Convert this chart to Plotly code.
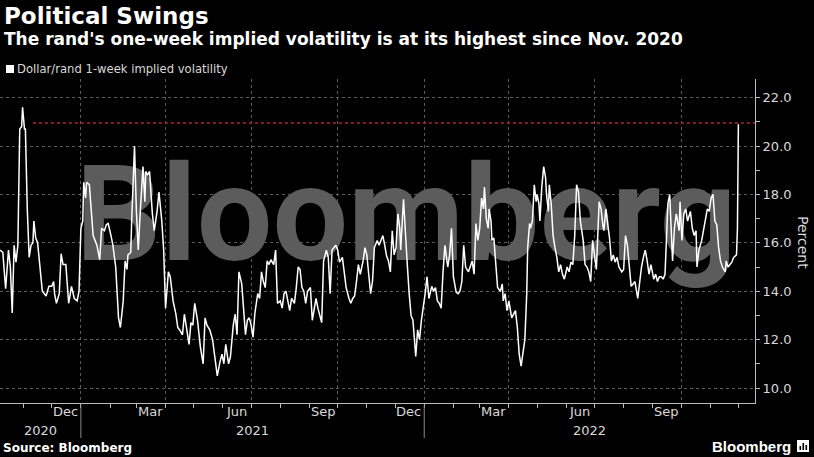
import plotly.graph_objects as go
import pandas as pd

# ---------------- data ----------------
dates = [
    "2020-10-07", "2020-10-10", "2020-10-13", "2020-10-16", "2020-10-18", "2020-10-20", "2020-10-22", "2020-10-24",
    "2020-10-26", "2020-10-28", "2020-10-30", "2020-10-31", "2020-11-02", "2020-11-03", "2020-11-05", "2020-11-07",
    "2020-11-09", "2020-11-11", "2020-11-12", "2020-11-14", "2020-11-16", "2020-11-19", "2020-11-21", "2020-11-25",
    "2020-11-28", "2020-12-01", "2020-12-03", "2020-12-04", "2020-12-06", "2020-12-09", "2020-12-11", "2020-12-13",
    "2020-12-16", "2020-12-19", "2020-12-22", "2020-12-25", "2020-12-28", "2020-12-30", "2021-01-01", "2021-01-03",
    "2021-01-04", "2021-01-06", "2021-01-07", "2021-01-10", "2021-01-12", "2021-01-14", "2021-01-18", "2021-01-21",
    "2021-01-23", "2021-01-26", "2021-01-28", "2021-01-30", "2021-02-02", "2021-02-04", "2021-02-07", "2021-02-10",
    "2021-02-12", "2021-02-15", "2021-02-17", "2021-02-19", "2021-02-20", "2021-02-23", "2021-02-24", "2021-02-27",
    "2021-03-01", "2021-03-03", "2021-03-05", "2021-03-08", "2021-03-10", "2021-03-11", "2021-03-13", "2021-03-15",
    "2021-03-18", "2021-03-20", "2021-03-23", "2021-03-25", "2021-03-28", "2021-03-30", "2021-04-01", "2021-04-04",
    "2021-04-06", "2021-04-09", "2021-04-12", "2021-04-14", "2021-04-16", "2021-04-19", "2021-04-21", "2021-04-23",
    "2021-04-26", "2021-04-28", "2021-04-30", "2021-05-02", "2021-05-05", "2021-05-08", "2021-05-11", "2021-05-13",
    "2021-05-15", "2021-05-18", "2021-05-21", "2021-05-24", "2021-05-26", "2021-05-29", "2021-05-31", "2021-06-02",
    "2021-06-04", "2021-06-07", "2021-06-09", "2021-06-12", "2021-06-14", "2021-06-16", "2021-06-18", "2021-06-21",
    "2021-06-23", "2021-06-25", "2021-06-27", "2021-06-29", "2021-07-01", "2021-07-03", "2021-07-05", "2021-07-08",
    "2021-07-10", "2021-07-12", "2021-07-14", "2021-07-16", "2021-07-18", "2021-07-20", "2021-07-22", "2021-07-25",
    "2021-07-27", "2021-07-29", "2021-08-01", "2021-08-03", "2021-08-05", "2021-08-07", "2021-08-09", "2021-08-11",
    "2021-08-13", "2021-08-16", "2021-08-18", "2021-08-20", "2021-08-22", "2021-08-24", "2021-08-26", "2021-08-28",
    "2021-08-30", "2021-09-02", "2021-09-04", "2021-09-06", "2021-09-08", "2021-09-10", "2021-09-12", "2021-09-14",
    "2021-09-16", "2021-09-19", "2021-09-21", "2021-09-23", "2021-09-25", "2021-09-27", "2021-09-29", "2021-10-01",
    "2021-10-03", "2021-10-06", "2021-10-08", "2021-10-10", "2021-10-13", "2021-10-15", "2021-10-17", "2021-10-19",
    "2021-10-21", "2021-10-23", "2021-10-25", "2021-10-28", "2021-10-30", "2021-11-01", "2021-11-03", "2021-11-05",
    "2021-11-07", "2021-11-09", "2021-11-12", "2021-11-14", "2021-11-16", "2021-11-18", "2021-11-20", "2021-11-22",
    "2021-11-24", "2021-11-26", "2021-11-28", "2021-11-30", "2021-12-02", "2021-12-04", "2021-12-06", "2021-12-07",
    "2021-12-10", "2021-12-12", "2021-12-14", "2021-12-16", "2021-12-18", "2021-12-20", "2021-12-23", "2021-12-25",
    "2021-12-27", "2021-12-29", "2021-12-31", "2022-01-02", "2022-01-04", "2022-01-06", "2022-01-09", "2022-01-11",
    "2022-01-13", "2022-01-15", "2022-01-17", "2022-01-19", "2022-01-21", "2022-01-23", "2022-01-26", "2022-01-28",
    "2022-01-30", "2022-02-01", "2022-02-04", "2022-02-06", "2022-02-08", "2022-02-10", "2022-02-12", "2022-02-14",
    "2022-02-17", "2022-02-19", "2022-02-21", "2022-02-23", "2022-02-25", "2022-02-27", "2022-03-01", "2022-03-03",
    "2022-03-05", "2022-03-06", "2022-03-08", "2022-03-10", "2022-03-11", "2022-03-13", "2022-03-14", "2022-03-16",
    "2022-03-18", "2022-03-20", "2022-03-23", "2022-03-25", "2022-03-26", "2022-03-28", "2022-03-30", "2022-04-01",
    "2022-04-04", "2022-04-06", "2022-04-08", "2022-04-10", "2022-04-12", "2022-04-14", "2022-04-16", "2022-04-18",
    "2022-04-20", "2022-04-21", "2022-04-23", "2022-04-24", "2022-04-26", "2022-04-28", "2022-04-30", "2022-05-01",
    "2022-05-03", "2022-05-04", "2022-05-06", "2022-05-07", "2022-05-08", "2022-05-10", "2022-05-11", "2022-05-13",
    "2022-05-14", "2022-05-16", "2022-05-18", "2022-05-20", "2022-05-22", "2022-05-24", "2022-05-26", "2022-05-28",
    "2022-05-30", "2022-06-02", "2022-06-04", "2022-06-06", "2022-06-08", "2022-06-10", "2022-06-12", "2022-06-14",
    "2022-06-16", "2022-06-19", "2022-06-21", "2022-06-23", "2022-06-25", "2022-06-27", "2022-06-29", "2022-07-01",
    "2022-07-03", "2022-07-06", "2022-07-08", "2022-07-10", "2022-07-11", "2022-07-13", "2022-07-15", "2022-07-17",
    "2022-07-19", "2022-07-21", "2022-07-23", "2022-07-25", "2022-07-27", "2022-07-30", "2022-08-01", "2022-08-03",
    "2022-08-05", "2022-08-07", "2022-08-09", "2022-08-11", "2022-08-13", "2022-08-16", "2022-08-18", "2022-08-20",
    "2022-08-22", "2022-08-24", "2022-08-26", "2022-08-28", "2022-08-30", "2022-09-02", "2022-09-04", "2022-09-06",
    "2022-09-08", "2022-09-10", "2022-09-12", "2022-09-14", "2022-09-16", "2022-09-17", "2022-09-19", "2022-09-20",
    "2022-09-22", "2022-09-24", "2022-09-26", "2022-09-29", "2022-09-30", "2022-10-02", "2022-10-04", "2022-10-06",
    "2022-10-08", "2022-10-11", "2022-10-13", "2022-10-15", "2022-10-17", "2022-10-18", "2022-10-20", "2022-10-23",
    "2022-10-25", "2022-10-27", "2022-10-29", "2022-10-31", "2022-11-02", "2022-11-04", "2022-11-06", "2022-11-08",
    "2022-11-10", "2022-11-12", "2022-11-14", "2022-11-17", "2022-11-18", "2022-11-20", "2022-11-22", "2022-11-24",
    "2022-11-26", "2022-11-29", "2022-11-30", "2022-12-01",
]
vol = [
    15.7, 15.6, 14.1, 15.7, 15.0, 13.1, 15.9, 15.2,
    15.9, 20.7, 20.8, 21.6, 20.7, 20.7, 17.4, 15.4,
    15.9, 16.0, 16.9, 16.2, 16.0, 14.7, 14.0, 13.8,
    14.2, 14.2, 14.4, 13.9, 13.5, 13.9, 15.55, 15.1,
    15.1, 13.5, 14.2, 13.7, 13.6, 14.0, 16.6, 16.9,
    18.5, 17.85, 18.5, 18.4, 17.4, 16.3, 15.9, 15.3,
    16.6, 16.5, 16.75, 16.8, 16.3, 15.9, 15.0, 12.9,
    12.5, 13.6, 15.25, 14.9, 15.5, 15.6, 16.9, 20.0,
    17.3, 15.7, 17.2, 19.15, 17.7, 18.95, 18.8, 18.95,
    17.2, 16.5, 17.3, 18.1, 16.9, 15.7, 13.3, 14.8,
    14.6, 13.6, 13.05, 12.5, 12.4, 12.2, 13.05, 12.5,
    11.8, 12.7, 12.6, 13.5, 12.8, 11.7, 11.0, 12.9,
    12.6, 12.4, 12.0, 11.1, 10.5, 11.1, 11.4, 11.0,
    11.8, 11.0, 11.3, 12.6, 13.05, 12.2, 14.8, 14.3,
    13.2, 12.2, 12.8, 12.9, 12.6, 12.1, 13.1, 13.9,
    13.7, 14.8, 14.4, 14.15, 15.25, 15.1, 15.3, 15.1,
    15.7, 13.5, 13.6, 13.3, 13.9, 14.0, 13.6, 13.2,
    13.7, 13.5, 14.15, 15.0, 14.9, 14.15, 14.0, 13.5,
    14.0, 14.15, 12.8, 13.3, 13.7, 13.3, 13.05, 12.7,
    15.25, 15.7, 15.4, 13.9, 15.7, 15.8, 15.9, 15.7,
    15.2, 15.4, 14.7, 14.15, 13.7, 13.5, 13.7, 13.8,
    14.4, 15.1, 14.7, 15.25, 15.8, 15.5, 14.7, 13.9,
    14.4, 15.8, 16.1, 15.9, 16.1, 16.3, 15.9, 15.45,
    15.25, 14.8, 16.5, 15.5, 15.8, 17.2, 16.6, 15.7,
    17.8, 16.2, 15.1, 13.9, 13.0, 12.8, 11.3, 12.4,
    12.0, 12.8, 13.3, 13.9, 14.6, 13.7, 14.2, 14.0,
    14.15, 13.6, 13.5, 13.3, 14.8, 15.9, 15.0, 15.5,
    16.6, 14.6, 13.95, 13.9, 14.0, 14.4, 15.9, 15.0,
    14.8, 15.0, 15.25, 14.7, 16.8, 16.1, 16.6, 17.85,
    17.4, 18.3, 17.0, 16.6, 17.4, 16.9, 16.1, 16.2,
    15.25, 14.15, 14.0, 14.3, 13.6, 13.9, 13.2, 13.6,
    12.9, 13.05, 13.2, 12.5, 11.4, 10.9, 11.55, 12.0,
    13.9, 15.8, 16.8, 16.6, 16.9, 18.4, 17.7, 18.0,
    17.6, 16.9, 18.3, 18.95, 19.15, 18.7, 18.0, 17.3,
    18.4, 17.6, 16.3, 15.8, 15.4, 14.8, 15.1, 14.7,
    14.5, 15.0, 14.8, 15.2, 15.1, 16.3, 18.4, 18.1,
    16.9, 16.1, 15.1, 15.0, 14.8, 14.4, 16.1, 15.5,
    14.9, 17.7, 17.4, 16.7, 16.5, 17.4, 16.9, 16.2,
    15.25, 15.5, 15.2, 15.4, 15.0, 14.8, 14.9, 16.3,
    15.9, 15.0, 14.2, 14.3, 14.4, 13.7, 14.4, 15.0,
    15.4, 15.7, 15.25, 14.7, 15.1, 14.5, 14.7, 14.4,
    14.6, 14.6, 14.5, 14.7, 16.6, 17.6, 18.0, 16.9,
    15.25, 16.6, 17.2, 16.5, 17.7, 16.1, 17.2, 17.4,
    16.9, 17.3, 16.6, 16.3, 16.5, 15.0, 15.7, 16.1,
    16.5, 16.9, 17.4, 17.3, 17.85, 18.0, 16.9, 16.75,
    15.8, 15.25, 15.0, 14.8, 15.25, 15.0, 15.1, 15.2,
    15.4, 15.5, 16.6, 20.9,
]

threshold_dates = ["2020-11-11", "2022-12-18 16:00"]
threshold_value = 20.95

x_range = ["2020-10-07", "2022-12-18 16:00"]
y_range = [9.38, 22.77]
y_ticks = [10, 12, 14, 16, 18, 20, 22]

month_label_months = ["2020-12", "2021-03", "2021-06", "2021-09", "2021-12", "2022-03", "2022-06", "2022-09"]
month_label_text = ["Dec", "Mar", "Jun", "Sep", "Dec", "Mar", "Jun", "Sep"]
year_labels = ["2020", "2021", "2022"]

title = "Political Swings"
subtitle = "The rand's one-week implied volatility is at its highest since Nov. 2020"
legend_text = "Dollar/rand 1-week implied volatility"
source_text = "Source: Bloomberg"
watermark = "Bloomberg"

# ---------------- layout helpers ----------------
W, H = 814, 457
ML, MR, MT, MB = 0, 59, 79, 54
PW, PH = W - ML - MR, H - MT - MB


def px(x):
    return (x - ML) / PW


def py(y):
    return (H - MB - y) / PH


FONT = "DejaVu Sans"
TXT = "#d9d9d9"

start, end = pd.Timestamp(x_range[0]), pd.Timestamp(x_range[1])

fig = go.Figure()

# watermark drawn first so the data line sits on top of it
wm_x = start + (end - start) * px(406)
wm_y = y_range[0] + (y_range[1] - y_range[0]) * py(226)
fig.add_trace(go.Scatter(
    x=[wm_x], y=[wm_y], mode="text", text=[watermark], textposition="middle center",
    textfont=dict(family="Roboto", size=134, color="#5c5c5c", weight="bold"),
    hoverinfo="skip", showlegend=False, cliponaxis=False,
))
fig.add_trace(go.Scatter(
    x=threshold_dates, y=[threshold_value] * len(threshold_dates), mode="lines",
    line=dict(color="#b3202a", width=1.6, dash="dot"), hoverinfo="skip", showlegend=False,
))
fig.add_trace(go.Scatter(
    x=dates, y=vol, mode="lines", line=dict(color="#ffffff", width=1.5),
    name=legend_text, showlegend=False,
))

annotations = []
# month labels centred in their month
for m, t in zip(month_label_months, month_label_text):
    mid = pd.Timestamp(m + "-01") + pd.Timedelta(days=14.5)
    annotations.append(dict(x=mid, y=py(412), xref="x", yref="paper", text=t, showarrow=False,
                            font=dict(family=FONT, size=13, color=TXT), xanchor="center", yanchor="middle"))
# year labels centred in visible part of year
for yl in year_labels:
    a = max(pd.Timestamp(yl + "-01-01"), start)
    b = min(pd.Timestamp(str(int(yl) + 1) + "-01-01"), end)
    annotations.append(dict(x=a + (b - a) / 2, y=py(430), xref="x", yref="paper", text=yl, showarrow=False,
                            font=dict(family=FONT, size=13, color=TXT), xanchor="center", yanchor="middle"))

annotations += [
    dict(x=px(2), y=py(16), xref="paper", yref="paper", text="<b>" + title + "</b>", showarrow=False,
         font=dict(family=FONT, size=23, color="#ffffff"), xanchor="left", yanchor="middle"),
    dict(x=px(2), y=py(39), xref="paper", yref="paper", text="<b>" + subtitle + "</b>", showarrow=False,
         font=dict(family=FONT, size=17, color="#ffffff"), xanchor="left", yanchor="middle"),
    dict(x=px(15), y=py(69), xref="paper", yref="paper", text=legend_text, showarrow=False,
         font=dict(family=FONT, size=11.6, color=TXT), xanchor="left", yanchor="middle"),
    dict(x=px(1), y=py(448), xref="paper", yref="paper", text="<b>" + source_text + "</b>", showarrow=False,
         font=dict(family=FONT, size=12, color="#ffffff"), xanchor="left", yanchor="middle"),
    dict(x=px(793), y=py(446), xref="paper", yref="paper", text="<b>Bloomberg</b>", showarrow=False,
         font=dict(family="Liberation Sans", size=15, color="#ffffff"), xanchor="right", yanchor="middle"),
    dict(x=px(803), y=py(242), xref="paper", yref="paper", text="Percent", showarrow=False, textangle=90,
         font=dict(family=FONT, size=14, color=TXT), xanchor="center", yanchor="middle"),
]

shapes = [
    # legend square
    dict(type="rect", xref="paper", yref="paper", x0=px(6), x1=px(14), y0=py(73), y1=py(65),
         fillcolor="#ffffff", line=dict(width=0)),
    # logo icon
    dict(type="rect", xref="paper", yref="paper", x0=px(797), x1=px(809), y0=py(452), y1=py(440),
         fillcolor="#ffffff", line=dict(width=0)),
]
for bx, top in [(799.5, 446), (802.5, 443), (805.5, 445)]:
    shapes.append(dict(type="rect", xref="paper", yref="paper", x0=px(bx), x1=px(bx + 1.6), y0=py(450), y1=py(top),
                       fillcolor="#000000", line=dict(width=0)))
# year separators below the axis
for yl in year_labels[1:]:
    shapes.append(dict(type="line", xref="x", yref="paper", x0=yl + "-01-01", x1=yl + "-01-01",
                       y0=py(405), y1=py(438), line=dict(color="#8a8a8a", width=1)))

fig.update_layout(
    width=W, height=H, margin=dict(l=ML, r=MR, t=MT, b=MB),
    paper_bgcolor="#000000", plot_bgcolor="#000000",
    showlegend=False, annotations=annotations, shapes=shapes,
    xaxis=dict(
        type="date", range=x_range, showticklabels=False,
        tick0="2021-01-01", dtick="M3", ticks="outside", ticklen=4, tickcolor="#bbbbbb",
        showgrid=True, gridcolor="#5a5a5a", griddash="dot", gridwidth=1,
        minor=dict(dtick="M1", tick0="2021-01-01", ticks="outside", ticklen=4, tickcolor="#bbbbbb", showgrid=False),
        showline=True, linecolor="#bbbbbb", linewidth=1, zeroline=False,
    ),
    yaxis=dict(
        side="right", range=y_range, tickvals=y_ticks, tickformat=".1f",
        ticks="outside", ticklen=4, tickcolor="#bbbbbb",
        tickfont=dict(family=FONT, size=13, color=TXT),
        showgrid=True, gridcolor="#5a5a5a", griddash="dot", gridwidth=1,
        minor=dict(dtick=1, tick0=9, ticks="outside", ticklen=4, tickcolor="#bbbbbb", showgrid=False),
        showline=True, linecolor="#bbbbbb", linewidth=1, zeroline=False,
    ),
)

fig.write_html("out.html")
